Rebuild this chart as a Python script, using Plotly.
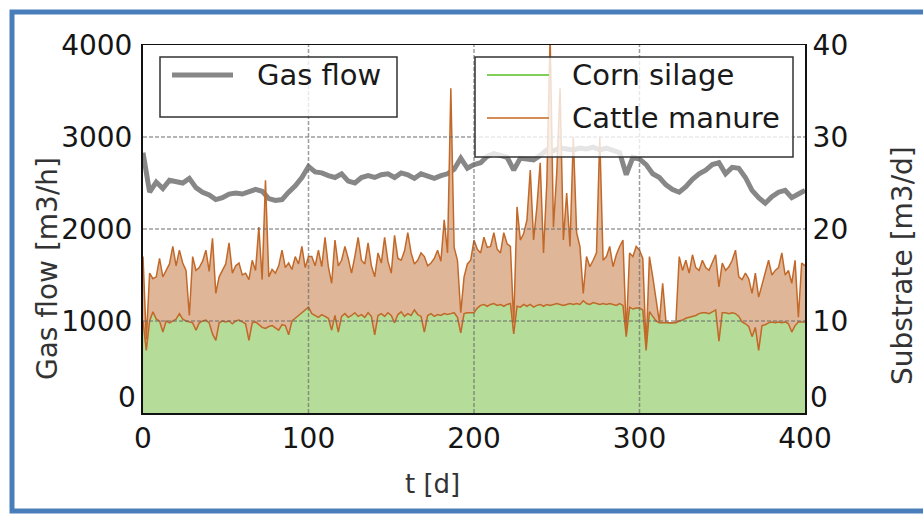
import numpy as np
import plotly.graph_objects as go

# ---------------- data ----------------
days = list(range(0, 401, 2))  # daily substrate samples, every 2 days

corn_silage = [
    10.0, 6.8, 10.0, 11.0, 10.2, 10.0, 8.8, 10.0, 9.8, 10.0,
    10.2, 10.8, 10.2, 10.0, 9.9, 9.8, 9.0, 9.8, 10.0, 10.1,
    9.8, 8.6, 7.9, 9.8, 10.0, 9.9, 10.0, 9.7, 10.0, 10.1,
    9.9, 9.7, 7.9, 9.8, 9.9, 9.6, 9.3, 9.2, 9.4, 9.5,
    9.2, 9.0, 9.6, 9.5, 8.5, 10.0, 10.3, 10.6, 11.0, 11.2,
    11.5, 10.8, 10.6, 10.4, 10.7, 10.5, 10.3, 9.0, 10.6, 8.8,
    10.5, 10.8, 10.4, 10.6, 10.9, 10.5, 10.7, 10.4, 10.9, 10.5,
    8.5, 10.6, 10.8, 10.5, 10.9, 10.6, 9.8, 10.7, 11.0, 10.5,
    10.8, 10.6, 11.2, 10.7, 10.5, 8.8, 10.6, 10.8, 10.5, 10.7,
    10.6, 10.8, 10.7, 10.8, 10.9, 10.4, 8.7, 10.8, 10.9, 10.9,
    10.9, 11.4, 11.7, 11.8, 11.6, 11.8, 11.9, 11.7, 11.8, 11.6,
    11.8, 11.9, 8.6, 11.6, 11.5, 11.8, 11.6, 11.8, 11.5, 11.7,
    11.8, 11.6, 11.8, 11.7, 11.8, 11.9, 11.8, 11.7, 11.8, 11.9,
    11.8, 11.9, 11.8, 12.2, 11.9, 11.8, 12.0, 11.9, 11.8, 11.9,
    11.8, 11.9, 11.8, 11.7, 11.9, 11.7, 8.3, 11.5, 11.3, 11.4,
    11.4, 11.2, 6.8, 11.0, 10.5, 10.0, 9.8, 9.8, 9.8, 9.8,
    9.8, 9.8, 10.0, 10.1, 10.3, 10.4, 10.5, 10.6, 10.8, 10.9,
    10.9, 10.8, 11.0, 11.2, 7.8, 10.9, 10.9, 10.8, 10.9, 10.8,
    10.5, 9.9, 9.7, 9.4, 8.3, 9.3, 6.8, 9.5, 9.6, 9.8,
    9.9, 9.8, 9.9, 9.8, 9.9, 9.7, 8.8, 9.5, 9.9, 9.9,
    9.9,
]

cattle_manure = [
    7.0, 1.2, 5.2, 3.6, 4.6, 6.8, 6.0, 5.5, 6.4, 8.1,
    5.8, 6.9, 6.1, 5.5, 0.7, 7.2, 6.5, 6.0, 6.5, 7.6,
    5.6, 10.4, 5.1, 5.0, 5.5, 6.3, 8.5, 5.5, 6.0, 6.2,
    5.1, 5.5, 6.6, 6.8, 5.6, 10.6, 5.2, 16.1, 5.4, 6.1,
    6.0, 7.0, 8.1, 6.3, 7.8, 5.6, 6.7, 5.6, 7.1, 4.6,
    5.5, 6.2, 5.4, 7.3, 5.2, 8.6, 5.6, 5.1, 8.2, 7.2,
    6.1, 7.3, 6.4, 4.6, 6.1, 8.6, 5.9, 5.8, 7.6, 5.5,
    6.3, 6.8, 5.5, 8.6, 5.6, 4.6, 9.5, 6.1, 5.6, 7.1,
    8.8, 6.8, 5.0, 5.9, 6.9, 8.2, 5.4, 5.5, 6.3, 7.0,
    5.9, 10.2, 6.7, 24.5, 7.1, 6.2, 2.2, 4.0, 5.3, 5.7,
    7.9, 6.4, 5.7, 7.3, 6.4, 6.3, 7.7, 6.1, 5.6, 8.0,
    6.6, 6.2, 1.2, 10.8, 7.3, 7.7, 9.4, 14.6, 7.3, 10.7,
    15.4, 5.8, 13.2, 29.3, 8.4, 14.2, 23.5, 7.1, 12.1, 6.2,
    18.2, 7.7, 6.3, 0.8, 5.1, 4.1, 4.6, 5.5, 18.2, 4.7,
    5.2, 6.2, 4.1, 5.5, 6.2, 7.1, 0.4, 5.9, 5.7, 6.7,
    6.3, 5.6, 0.4, 6.0, 4.3, 2.6, 0.1, 4.3, 0.1, 0.0,
    0.0, 0.1, 7.0, 5.4, 6.3, 4.8, 6.7, 5.2, 4.7, 5.7,
    4.9, 4.7, 5.4, 6.0, 5.9, 5.4, 4.6, 5.1, 5.7, 6.9,
    4.3, 4.6, 5.5, 5.2, 4.7, 5.9, 5.8, 4.5, 5.6, 6.8,
    5.1, 5.7, 5.9, 7.6, 5.1, 5.8, 5.3, 7.1, 0.5, 6.4,
    6.1,
]

gas_days = list(range(0, 401, 4))
gas_flow = [
    2830, 2400, 2510, 2440, 2530, 2520, 2500, 2550, 2450, 2400,
    2370, 2320, 2340, 2380, 2390, 2380, 2400, 2430, 2410, 2330,
    2310, 2320, 2400, 2470, 2560, 2680, 2620, 2610, 2580, 2560,
    2600, 2520, 2500, 2560, 2580, 2560, 2590, 2600, 2560, 2610,
    2590, 2550, 2600, 2580, 2550, 2580, 2600, 2650, 2770, 2660,
    2700, 2720, 2790, 2820, 2800, 2780, 2640, 2770, 2760, 2750,
    2800, 2860, 2850, 2880, 2870, 2860, 2880, 2870, 2890, 2860,
    2880, 2860, 2830, 2590, 2780, 2760, 2700, 2600, 2560, 2480,
    2430, 2400, 2460, 2540, 2600, 2640, 2700, 2720, 2600, 2670,
    2660, 2560, 2420, 2340, 2280, 2350, 2400, 2420, 2340, 2380,
    2420,
]

x_ticks = [0, 100, 200, 300, 400]
gas_ticks = [0, 1000, 2000, 3000, 4000]
sub_ticks = [0, 10, 20, 30, 40]

# ---------------- styling ----------------
FONT = "DejaVu Sans"
GREEN_FILL = "#b6dc99"
GREEN_LINE = "#7fcf58"
TAN_FILL = "#dfb697"
BROWN = "#c2692a"
GRAY = "#878787"

# plot area in pixels
W, H = 923, 516
L, R, T, B = 143, 118, 45, 103
PW, PH = W - L - R, H - T - B


def px(xp):
    return (xp - L) / PW


def py(yp):
    return (H - B - yp) / PH


fig = go.Figure()

fig.add_trace(go.Scatter(
    x=gas_days, y=gas_flow, mode="lines", name="Gas flow",
    line=dict(color=GRAY, width=5), yaxis="y", showlegend=False))

fig.add_trace(go.Scatter(
    x=days, y=corn_silage, mode="lines", name="Corn silage",
    stackgroup="sub", fillcolor=GREEN_FILL,
    line=dict(color=GREEN_LINE, width=0.5), yaxis="y2", showlegend=False))

fig.add_trace(go.Scatter(
    x=days, y=cattle_manure, mode="lines", name="Cattle manure",
    stackgroup="sub", fillcolor=TAN_FILL,
    line=dict(color=BROWN, width=1.5), yaxis="y2", showlegend=False))

fig.add_trace(go.Scatter(
    x=days, y=corn_silage, mode="lines", name="Corn silage edge",
    line=dict(color=BROWN, width=1.5), yaxis="y2", showlegend=False,
    hoverinfo="skip"))

shapes = []
grid = dict(color="rgba(105,105,105,0.65)", width=1.5, dash="4px,2px")
for xv in x_ticks[1:-1]:
    shapes.append(dict(type="line", xref="x", yref="paper", x0=xv, x1=xv,
                       y0=0, y1=1, line=grid, layer="above"))
for yv in gas_ticks[1:-1]:
    shapes.append(dict(type="line", xref="paper", yref="y", x0=0, x1=1,
                       y0=yv, y1=yv, line=grid, layer="above"))

# legend boxes
box_line = dict(color="#333333", width=1.5)
box_fill = "rgba(255,255,255,0.78)"
shapes.append(dict(type="rect", xref="paper", yref="paper",
                   x0=px(160), x1=px(397), y0=py(117), y1=py(57),
                   line=box_line, fillcolor=box_fill, layer="above"))
shapes.append(dict(type="rect", xref="paper", yref="paper",
                   x0=px(475), x1=px(793), y0=py(157), y1=py(57),
                   line=box_line, fillcolor=box_fill, layer="above"))
shapes.append(dict(type="line", xref="paper", yref="paper",
                   x0=px(172), x1=px(233), y0=py(75), y1=py(75),
                   line=dict(color=GRAY, width=5), layer="above"))
shapes.append(dict(type="line", xref="paper", yref="paper",
                   x0=px(487), x1=px(549), y0=py(75), y1=py(75),
                   line=dict(color=GREEN_LINE, width=2), layer="above"))
shapes.append(dict(type="line", xref="paper", yref="paper",
                   x0=px(487), x1=px(549), y0=py(118), y1=py(118),
                   line=dict(color="#d28d58", width=2), layer="above"))

# blue outer frame
shapes.append(dict(type="rect", xref="paper", yref="paper",
                   x0=px(12), x1=px(935), y0=py(511), y1=py(12),
                   line=dict(color="#4a7ebb", width=5), layer="above"))

tickfont = dict(family=FONT, size=28, color="#151515")

annotations = [
    dict(text="Gas flow", xref="paper", yref="paper", x=px(255), y=py(75),
         xanchor="left", yanchor="middle", showarrow=False,
         font=dict(family=FONT, size=29, color="#1a1a1a")),
    dict(text="Corn silage", xref="paper", yref="paper", x=px(570), y=py(75),
         xanchor="left", yanchor="middle", showarrow=False,
         font=dict(family=FONT, size=29, color="#1a1a1a")),
    dict(text="Cattle manure", xref="paper", yref="paper", x=px(570), y=py(118),
         xanchor="left", yanchor="middle", showarrow=False,
         font=dict(family=FONT, size=29, color="#1a1a1a")),
    dict(text="Gas flow [m3/h]", xref="paper", yref="paper", x=px(47), y=py(268),
         xanchor="center", yanchor="middle", textangle=-90, showarrow=False,
         font=dict(family=FONT, size=28, color="#333333")),
    dict(text="Substrate [m3/d]", xref="paper", yref="paper", x=px(902), y=py(266),
         xanchor="center", yanchor="middle", textangle=-90, showarrow=False,
         font=dict(family=FONT, size=28, color="#333333")),
    dict(text="t [d]", xref="paper", yref="paper", x=px(432), y=py(484),
         xanchor="center", yanchor="middle", showarrow=False,
         font=dict(family=FONT, size=26, color="#333333")),
    # the two "0" labels of the y axes sit slightly raised, clear of the x labels
    dict(text=str(gas_ticks[0]), xref="paper", yref="paper", x=px(138), y=py(397),
         xanchor="right", yanchor="middle", showarrow=False, font=tickfont),
    dict(text=str(sub_ticks[0]), xref="paper", yref="paper", x=px(808), y=py(397),
         xanchor="left", yanchor="middle", showarrow=False, font=tickfont),
]

fig.update_layout(
    width=W, height=H,
    margin=dict(l=L, r=R, t=T, b=B, pad=0),
    paper_bgcolor="white", plot_bgcolor="white",
    showlegend=False,
    xaxis=dict(range=[0, 400], tickvals=x_ticks, tickfont=tickfont,
               showgrid=False, zeroline=False, showline=True,
               linecolor="#111111", linewidth=1.5, mirror=True, ticks="",
               layer="above traces"),
    yaxis=dict(range=[0, 4000], tickvals=gas_ticks[1:], tickfont=tickfont,
               showgrid=False, zeroline=False, showline=True,
               linecolor="#111111", linewidth=2, mirror=True, ticks="",
               ticklabelstandoff=3, layer="above traces"),
    yaxis2=dict(range=[0, 40], tickvals=sub_ticks[1:], tickfont=tickfont,
                overlaying="y", side="right", anchor="x",
                showgrid=False, zeroline=False, showline=True,
                linecolor="#111111", linewidth=2, ticks="",
                layer="above traces"),
    shapes=shapes,
    annotations=annotations,
)

fig.write_html("out.html", config={"displayModeBar": False, "staticPlot": True})

# remove the browser's default page margin so the figure sits at (0, 0)
with open("out.html", "r", encoding="utf-8") as f:
    page = f.read()
page = page.replace("<head>", "<head><style>html,body{margin:0;padding:0;overflow:hidden;}</style>", 1)
with open("out.html", "w", encoding="utf-8") as f:
    f.write(page)
